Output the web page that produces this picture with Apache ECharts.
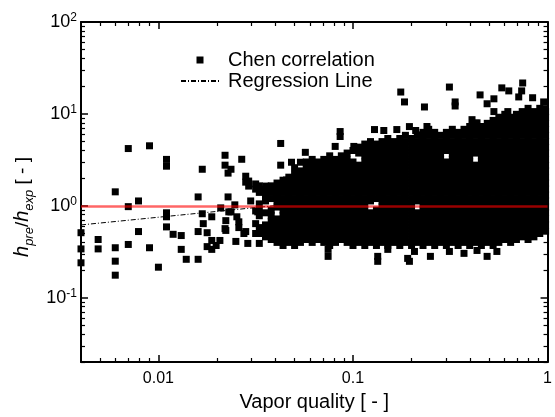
<!DOCTYPE html>
<html>
<head>
<meta charset="utf-8">
<script src="https://cdn.jsdelivr.net/npm/echarts@6/dist/echarts.min.js"></script>
<style>
html,body{margin:0;padding:0;background:#fff;}
#chart{width:555px;height:417px;}
</style>
</head>
<body>
<div id="chart"></div>
<script>
// ---- data ----
// dense cloud: vapor quality columns and the h_pre/h_exp values in each
const cloudX = [0.033,0.0355,0.038,0.0407,0.0437,0.0468,0.0501,0.0537,0.0575,0.0617,0.0661,0.0708,0.0759,0.0813,0.0871,0.0933,0.1,0.107,0.115,0.123,0.132,0.141,0.151,0.162,0.174,0.186,0.2,0.214,0.229,0.245,0.263,0.282,0.302,0.324,0.347,0.372,0.398,0.427,0.457,0.49,0.525,0.562,0.603,0.646,0.692,0.741,0.794,0.851,0.912,0.977];
const cloudY = [
[0.39,0.5,0.58,0.78,0.9,1.05,1.4,1.65],
[0.46,0.53,0.62,0.84,1.13,1.31,1.52],
[0.43,0.5,0.58,0.67,0.78,0.9,1.2,1.4,1.65],
[0.4,0.46,0.53,0.62,0.72,0.97,1.13,1.31,1.52,1.77],
[0.37,0.43,0.5,0.58,0.67,0.78,0.9,1.05,1.2,1.4,1.65,1.9],
[0.4,0.46,0.53,0.62,0.72,0.84,0.97,1.13,1.31,1.52,1.77,2.05],
[0.37,0.43,0.5,0.58,0.67,0.78,0.9,1.05,1.2,1.4,1.65,1.9,2.2,2.6],
[0.4,0.46,0.53,0.62,0.72,0.84,0.97,1.13,1.31,1.52,1.77,2.05,2.4],
[0.43,0.5,0.58,0.67,0.78,0.9,1.05,1.2,1.4,1.65,1.9,2.2,2.6,3.0],
[0.4,0.46,0.53,0.62,0.72,0.84,0.97,1.13,1.31,1.52,1.77,2.05,2.4,2.77,3.2],
[0.43,0.5,0.58,0.67,0.78,0.9,1.05,1.2,1.4,1.65,1.9,2.2,2.6,3.0],
[0.4,0.46,0.53,0.62,0.72,0.84,0.97,1.13,1.31,1.52,1.77,2.05,2.4,2.77,3.2],
[0.37,0.43,0.5,0.58,0.67,0.78,0.9,1.05,1.2,1.4,1.65,1.9,2.2,2.6,3.0,3.5],
[0.4,0.46,0.53,0.62,0.72,0.84,0.97,1.13,1.31,1.52,1.77,2.05,2.4,2.77,3.2],
[0.43,0.5,0.58,0.67,0.78,0.9,1.05,1.2,1.4,1.65,1.9,2.2,2.6,3.0,3.5],
[0.4,0.46,0.53,0.62,0.72,0.84,0.97,1.13,1.31,1.52,1.77,2.05,2.4,2.77,3.2,3.75],
[0.37,0.43,0.5,0.58,0.67,0.78,0.9,1.05,1.2,1.4,1.65,1.9,2.2,2.6,3.0,4.0],
[0.4,0.46,0.53,0.62,0.72,0.84,0.97,1.13,1.31,1.52,1.77,2.05,2.4,2.77,3.75,4.35],
[0.37,0.43,0.5,0.58,0.67,0.78,0.9,1.05,1.2,1.4,1.65,1.9,2.2,2.6,3.0,3.5,4.0,4.7],
[0.4,0.46,0.53,0.62,0.72,0.84,1.13,1.31,1.52,1.77,2.05,2.4,2.77,3.2,3.75,4.35,5.0],
[0.37,0.43,0.5,0.58,0.67,0.78,0.9,1.2,1.4,1.65,1.9,2.2,2.6,3.0,3.5,4.0,4.7],
[0.4,0.46,0.53,0.62,0.72,0.84,0.97,1.13,1.31,1.52,1.77,2.05,2.4,2.77,3.2,3.75,4.35,5.0],
[0.37,0.43,0.5,0.58,0.67,0.78,0.9,1.05,1.2,1.4,1.65,1.9,2.2,2.6,3.0,3.5,4.0,4.7,5.4],
[0.4,0.46,0.53,0.62,0.72,0.84,0.97,1.13,1.31,1.52,1.77,2.05,2.4,2.77,3.2,3.75,4.35,5.0],
[0.37,0.43,0.5,0.58,0.67,0.78,0.9,1.05,1.2,1.4,1.65,1.9,2.2,2.6,3.0,3.5,4.0,4.7,5.4],
[0.4,0.46,0.53,0.62,0.72,0.84,0.97,1.13,1.31,1.52,1.77,2.05,2.4,2.77,3.2,3.75,4.35,5.0,5.85],
[0.37,0.43,0.5,0.58,0.67,0.78,0.9,1.05,1.2,1.4,1.65,1.9,2.2,2.6,3.0,3.5,4.0,4.7,5.4],
[0.4,0.46,0.53,0.62,0.72,0.84,1.13,1.31,1.52,1.77,2.05,2.4,2.77,3.2,3.75,4.35,5.0,5.85],
[0.37,0.43,0.5,0.58,0.67,0.78,0.9,1.05,1.2,1.4,1.65,1.9,2.2,2.6,3.0,3.5,4.0,4.7,5.4,6.3],
[0.4,0.46,0.53,0.62,0.72,0.84,0.97,1.13,1.31,1.52,1.77,2.05,2.4,2.77,3.2,3.75,4.35,5.0,5.85,6.8],
[0.37,0.43,0.5,0.58,0.67,0.78,0.9,1.05,1.2,1.4,1.65,1.9,2.2,2.6,3.0,3.5,4.0,4.7,5.4,6.3],
[0.4,0.46,0.53,0.62,0.72,0.84,0.97,1.13,1.31,1.52,1.77,2.05,2.4,2.77,3.2,3.75,4.35,5.0,5.85],
[0.37,0.43,0.5,0.58,0.67,0.78,0.9,1.05,1.2,1.4,1.65,1.9,2.2,2.6,3.0,4.0,4.7,5.4,6.3],
[0.4,0.46,0.53,0.62,0.72,0.84,0.97,1.13,1.31,1.52,1.77,2.05,2.4,2.77,3.2,3.75,4.35,5.0,5.85,6.8],
[0.37,0.43,0.5,0.58,0.67,0.78,0.9,1.05,1.2,1.4,1.65,1.9,2.2,2.6,3.0,3.5,4.0,4.7,5.4,6.3],
[0.4,0.46,0.53,0.62,0.72,0.84,0.97,1.13,1.31,1.52,1.77,2.05,2.4,2.77,3.2,3.75,4.35,5.0,5.85,6.8],
[0.37,0.43,0.5,0.58,0.67,0.78,0.9,1.05,1.2,1.4,1.65,1.9,2.2,2.6,3.0,3.5,4.0,4.7,5.4,6.3,7.3],
[0.4,0.46,0.53,0.62,0.72,0.84,0.97,1.13,1.31,1.52,1.77,2.05,2.4,2.77,3.75,4.35,5.0,5.85,6.8,7.9],
[0.37,0.43,0.5,0.58,0.67,0.78,0.9,1.05,1.2,1.4,1.65,1.9,2.2,2.6,3.0,3.5,4.0,4.7,5.4,6.3,7.3],
[0.4,0.46,0.53,0.62,0.72,0.84,0.97,1.13,1.31,1.52,1.77,2.05,2.4,2.77,3.2,3.75,4.35,5.0,5.85,6.8,7.9],
[0.37,0.43,0.5,0.58,0.67,0.78,0.9,1.05,1.2,1.4,1.65,1.9,2.2,2.6,3.0,3.5,4.0,4.7,5.4,6.3,7.3,8.5],
[0.4,0.46,0.53,0.62,0.72,0.84,0.97,1.13,1.31,1.52,1.77,2.05,2.4,2.77,3.2,3.75,4.35,5.0,5.85,6.8,7.9,9.2],
[0.43,0.5,0.58,0.67,0.78,0.9,1.05,1.2,1.4,1.65,1.9,2.2,2.6,3.0,3.5,4.0,4.7,5.4,6.3,7.3,8.5,9.9],
[0.4,0.46,0.53,0.62,0.72,0.84,0.97,1.13,1.31,1.52,1.77,2.05,2.4,2.77,3.2,3.75,4.35,5.0,5.85,6.8,7.9,9.2],
[0.43,0.5,0.58,0.67,0.78,0.9,1.05,1.2,1.4,1.65,1.9,2.2,2.6,3.0,3.5,4.0,4.7,5.4,6.3,7.3,8.5,9.9],
[0.46,0.53,0.62,0.72,0.84,0.97,1.13,1.31,1.52,1.77,2.05,2.4,2.77,3.2,3.75,4.35,5.0,5.85,6.8,7.9,9.2,10.6],
[0.43,0.5,0.58,0.67,0.78,0.9,1.05,1.2,1.4,1.65,1.9,2.2,2.6,3.0,3.5,4.0,4.7,5.4,6.3,7.3,8.5,9.9,11.5],
[0.46,0.53,0.62,0.72,0.84,0.97,1.13,1.31,1.52,1.77,2.05,2.4,2.77,3.2,3.75,4.35,5.0,5.85,6.8,7.9,9.2,10.6],
[0.5,0.58,0.67,0.78,0.9,1.05,1.2,1.4,1.65,1.9,2.2,2.6,3.0,3.5,4.0,4.7,5.4,6.3,7.3,8.5,9.9,11.5],
[0.53,0.62,0.72,0.84,0.97,1.13,1.31,1.52,1.77,2.05,2.4,2.77,3.2,3.75,4.35,5.0,5.85,6.8,7.9,9.2,10.6]
];
// scattered points outside the dense cloud: [vapor quality, h_pre/h_exp]
const scatteredPoints = [
[0.004,0.51],[0.004,0.34],[0.004,0.24],[0.0049,0.43],[0.0049,0.34],
[0.006,1.42],[0.006,0.35],[0.006,0.25],[0.006,0.176],[0.007,0.98],[0.007,0.38],[0.007,4.2],
[0.0079,1.13],[0.0079,0.525],[0.009,0.35],[0.009,4.5],[0.01,0.215],
[0.011,0.84],[0.011,0.76],[0.011,0.59],[0.011,3.2],[0.011,2.7],[0.0119,0.49],
[0.0131,0.475],[0.0131,0.336],[0.0139,0.262],[0.016,1.25],[0.016,0.525],[0.016,0.262],
[0.0168,0.82],[0.017,0.64],[0.0168,2.5],[0.0178,0.51],[0.0178,0.36],
[0.0188,0.76],[0.0188,0.42],[0.0188,0.336],[0.0198,0.37],[0.0207,0.42],[0.0209,0.95],
[0.022,0.565],[0.0222,0.69],[0.0222,0.54],[0.022,3.55],[0.022,2.77],[0.0228,1.25],[0.0228,2.27],
[0.023,0.86],[0.0236,0.86],[0.0236,2.5],[0.0247,1.025],[0.0253,0.76],[0.025,0.41],
[0.0259,0.67],[0.0259,0.58],[0.0268,3.21],[0.0275,0.5],[0.0281,0.525],[0.0281,1.81],[0.0281,2.1],
[0.0288,0.39],[0.0291,1.64],[0.0291,1.86],[0.0298,1.13],
[0.0316,1.52],[0.0316,0.88],[0.0316,0.64],[0.0316,0.5],[0.0316,1.73],[0.0324,0.86],[0.0356,1.64],
[0.0425,4.77],[0.0425,2.77],[0.0455,1.91],[0.0483,2.98],[0.0537,2.98],[0.0569,3.82],
[0.081,4.43],[0.0859,6.43],[0.0859,5.68],[0.101,4.43],[0.0745,0.336],[0.0745,0.282],
[0.129,6.76],[0.144,6.6],[0.168,6.76],[0.195,7.28],[0.21,6.6],[0.24,7.3],[0.226,5.9],
[0.176,17.3],[0.184,13.5],[0.233,11.9],[0.313,19.6],[0.335,13.5],[0.335,12.2],[0.45,16.1],
[0.489,12.9],[0.53,14.6],[0.53,10.6],[0.582,19.2],[0.632,17.8],[0.625,10.6],[0.745,21.7],
[0.736,17.8],[0.711,15.3],[0.838,15.0],[0.955,13.5],[0.966,11.4],[0.966,4.9],[0.409,8.66],[0.434,8.0],
[0.134,0.282],[0.134,0.249],[0.151,0.336],[0.191,0.268],[0.195,0.249],[0.207,0.319],[0.25,0.282],
[0.313,0.319],[0.372,0.304],[0.434,0.327],[0.489,0.282],[0.549,0.319]
];
// regression line end points
const regressionX = [0.004, 1];
const regressionY = [0.62, 1.98];
// perfect-agreement reference
const referenceY = 1;
const seriesNames = ['Chen correlation', 'Regression Line'];
const xLabelText = 'Vapor quality [ - ]';

// ---- build ----
const chenData = [];
cloudX.forEach((x, i) => cloudY[i].forEach(y => chenData.push([x, y])));
scatteredPoints.forEach(p => chenData.push(p));
const regressionData = regressionX.map((x, i) => [x, regressionY[i]]);

const FONT = 'Liberation Sans, Arial, sans-serif';
const isDecade = v => Math.abs(Math.log10(v) - Math.round(Math.log10(v))) < 1e-6;

const axisLineStyle = {color: '#000', width: 2};
function xAx(pos, labels) {
  return {
    type: 'log', logBase: 10, min: 0.004, max: 1, position: pos,
    axisLine: {show: true, lineStyle: axisLineStyle},
    axisTick: {show: true, inside: true, length: 7, lineStyle: {color: '#000', width: 1.5}},
    minorTick: {show: true, splitNumber: 9, length: 4, lineStyle: {color: '#000', width: 1.2}},
    splitLine: {show: false}, minorSplitLine: {show: false},
    axisLabel: {show: labels, margin: 9, fontSize: 16, color: '#000', fontFamily: FONT,
      formatter: v => isDecade(v) ? String(+v.toPrecision(3)) : ''},
    name: labels ? xLabelText : '', nameLocation: 'middle', nameGap: 30,
    nameTextStyle: {fontSize: 20, color: '#000', fontFamily: FONT}
  };
}
function yAx(pos, labels) {
  return {
    type: 'log', logBase: 10, min: 0.02, max: 100, position: pos,
    axisLine: {show: true, lineStyle: axisLineStyle},
    axisTick: {show: true, inside: true, length: 7, lineStyle: {color: '#000', width: 1.5}},
    minorTick: {show: true, splitNumber: 9, length: 4, lineStyle: {color: '#000', width: 1.2}},
    splitLine: {show: false}, minorSplitLine: {show: false},
    axisLabel: {show: labels, margin: 4, color: '#000', fontFamily: FONT,
      formatter: v => isDecade(v) ? '{b|10}{s|' + Math.round(Math.log10(v)) + '}' : '',
      rich: {
        b: {fontSize: 18, fontFamily: FONT, color: '#000'},
        s: {fontSize: 12, fontFamily: FONT, color: '#000', padding: [0, 0, 8, 0]}
      }},
    name: labels ? '{h|h}{s|pre}{n|/}{h|h}{s|exp}{n| [ - ]}' : '',
    nameLocation: 'middle', nameGap: 44, nameRotate: 90,
    nameTextStyle: {
      color: '#000', fontFamily: FONT, padding: [0, 30, 0, 0],
      rich: {
        h: {fontSize: 20, fontStyle: 'italic', fontFamily: FONT, color: '#000'},
        s: {fontSize: 13, fontStyle: 'italic', fontFamily: FONT, color: '#000', padding: [12, 0, 0, 0]},
        n: {fontSize: 19, fontFamily: FONT, color: '#000'}
      }
    }
  };
}

const chart = echarts.init(document.getElementById('chart'), null, {renderer: 'canvas'});
chart.setOption({
  animation: false,
  backgroundColor: '#fff',
  textStyle: {fontFamily: FONT},
  grid: {left: 81, right: 4, top: 22, bottom: 52, containLabel: false},
  xAxis: [xAx('bottom', true), xAx('top', false)],
  yAxis: [yAx('left', true), yAx('right', false)],
  legend: {
    orient: 'vertical', left: 180, top: 50, padding: 0, itemGap: 1,
    itemWidth: 38, itemHeight: 7, symbolKeepAspect: true,
    textStyle: {fontSize: 20, color: '#000', fontFamily: FONT, padding: [0, 0, 0, 4]},
    data: [
      {name: seriesNames[0], icon: 'path://M0,0H10V10H0Z'},
      {name: seriesNames[1], itemStyle: {opacity: 0}}
    ]
  },
  series: [
    {
      name: seriesNames[1], type: 'line', xAxisIndex: 0, yAxisIndex: 0,
      data: regressionData, symbol: 'none', showSymbol: false, z: 1, silent: true,
      color: '#000', itemStyle: {color: '#000'},
      lineStyle: {color: '#000', width: 1, type: [5, 2, 1, 2]}
    },
    {
      name: seriesNames[0], type: 'scatter', xAxisIndex: 0, yAxisIndex: 0,
      data: chenData, symbol: 'rect', symbolSize: 7, z: 2, silent: true,
      color: '#000', itemStyle: {color: '#000', opacity: 1}
    },
    {
      name: 'ref', type: 'line', xAxisIndex: 0, yAxisIndex: 0, data: [], z: 5,
      markLine: {
        silent: true, symbol: 'none', label: {show: false},
        lineStyle: {color: 'rgba(255,0,0,0.6)', width: 2.5, type: 'solid'},
        data: [{yAxis: referenceY}]
      }
    }
  ]
});
</script>
</body>
</html>
